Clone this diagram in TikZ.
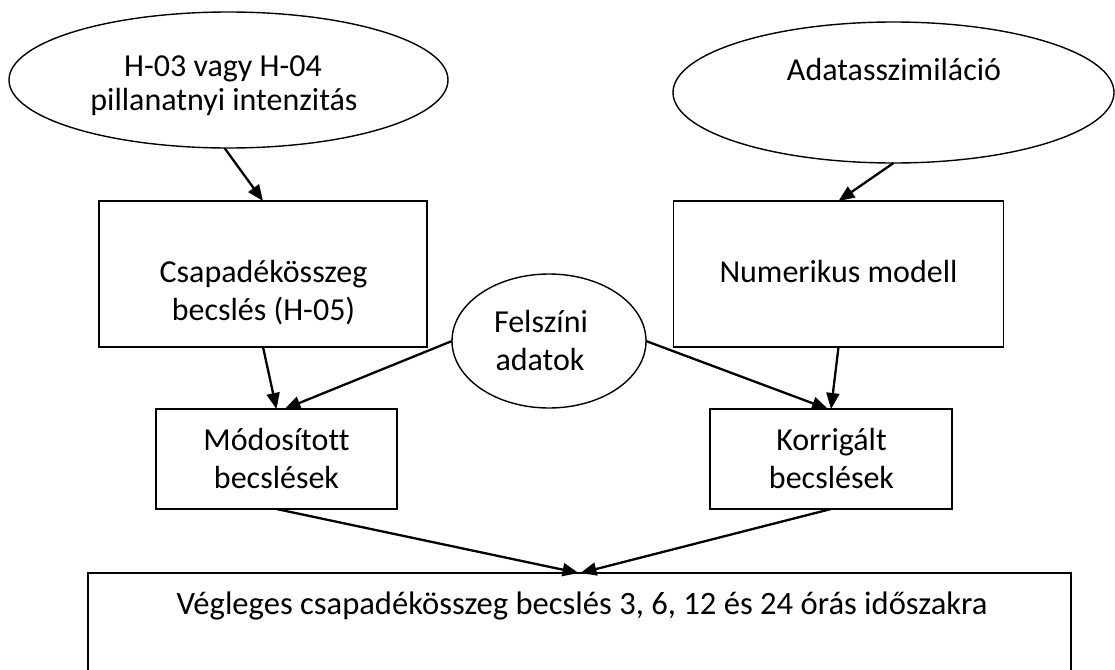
\documentclass[tikz,border=0pt]{standalone}
\usepackage{fontspec}
\setmainfont{Carlito}[Ligatures=NoCommon]
\usetikzlibrary{shapes.geometric,arrows.meta,calc}
\begin{document}
\begin{tikzpicture}[x=1pt,y=-1pt,
  ell/.style={draw,ellipse,line width=1.4pt,inner sep=0pt,outer sep=0pt},
  box/.style={draw,rectangle,line width=1.4pt,inner sep=0pt,outer sep=0pt},
  lbl/.style={anchor=base,inner sep=0pt,font=\fontsize{32}{39}\selectfont},
  arr/.style={line width=2.3pt,-{Triangle[length=16pt,width=13pt]}}]
\useasboundingbox (0,0) rectangle (1115,669);
\clip (0,0) rectangle (1115,669);
% shapes
\node[ell,minimum width=439pt,minimum height=136pt] (e1) at (228.5,80) {};
\node[ell,minimum width=441pt,minimum height=141pt] (e2) at (893.5,92.5) {};
\node[box,minimum width=328pt,minimum height=146pt] (csap) at (263,274) {};
\node[box,minimum width=330pt,minimum height=146pt] (num) at (838.5,274) {};
\node[ell,minimum width=194pt,minimum height=134pt] (felsz) at (549,341) {};
\node[box,minimum width=241pt,minimum height=100pt] (mod) at (276.5,459) {};
\node[box,minimum width=242pt,minimum height=100pt] (kor) at (831,459) {};
\node[box,minimum width=983pt,minimum height=140pt] (fin) at (579.5,643) {};
% texts
\node[lbl] (t1a) at (223,76) {H-03 vagy H-04};
\node[lbl] (t1b) at (224,110) {pillanatnyi intenzitás};
\node[lbl] (t2) at (894,80) {Adatasszimiláció};
\node[lbl] (t3a) at (263.5,282) {Csapadékösszeg};
\node[lbl] (t3b) at (263.5,320) {becslés (H-05)};
\node[lbl] (t4) at (838.5,282) {Numerikus modell};
\node[lbl] (t5a) at (541,332) {Felszíni};
\node[lbl] (t5b) at (540,370) {adatok};
\node[lbl] (t6a) at (276.5,450) {Módosított};
\node[lbl] (t6b) at (276.5,488) {becslések};
\node[lbl] (t7a) at (831.5,450) {Korrigált};
\node[lbl] (t7b) at (831.5,488) {becslések};
\node[lbl] (t8) at (582,614) {\fontsize{32.6}{39}\selectfont Végleges csapadékösszeg becslés 3, 6, 12 és 24 órás időszakra};
% connectors
\draw[arr] ($(e1.south)+(-4,0)$) -- (csap.north);
\draw[arr] (e2.south) -- (num.north);
\draw[arr] (csap.south) -- (mod.north);
\draw[arr] (felsz.west) -- ($(mod.north)+(8,0)$);
\draw[arr] (num.south) -- (kor.north);
\draw[arr] (felsz.east) -- ($(kor.north)+(-3,0)$);
\draw[arr] (mod.south) -- ($(fin.north)+(-1,0)$);
\draw[arr] (kor.south) -- ($(fin.north)+(1,0)$);
\end{tikzpicture}
\end{document}
